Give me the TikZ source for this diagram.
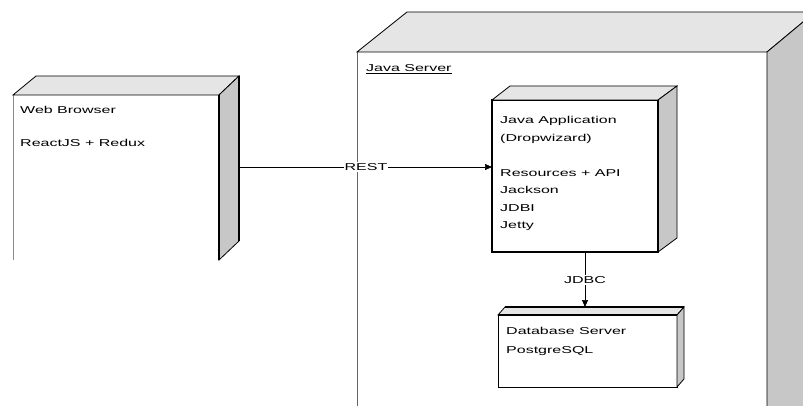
\documentclass[tikz,border=0pt]{standalone}
\usepackage{fontspec}
\setmainfont{Liberation Sans}
\newfontfamily\widefont[FakeStretch=1.6]{Liberation Sans}
\usetikzlibrary{calc,arrows.meta}
\tikzset{
 front/.style={draw=black, line width=0.8pt, fill=white, anchor=north west, inner sep=0pt, outer sep=0pt},
 topface/.style={draw=black, line width=0.8pt, fill=black!10},
 sideface/.style={draw=black, line width=0.8pt, fill=black!22},
 lbl/.style={font=\widefont\fontsize{10}{17.5}\selectfont, align=left, anchor=base west, inner sep=0pt},
 conn/.style={draw=black, line width=0.7pt, -{Triangle[length=7pt,width=6pt]}},
 connlbl/.style={fill=white, font=\widefont\fontsize{10}{12}\selectfont, inner sep=1pt}
}
\begin{document}
\begin{tikzpicture}[x=1pt,y=-1pt]
\clip (0,0) rectangle (803,406);
\fill[white] (0,0) rectangle (803,406);
% Web browser node
\node[front, draw=none, minimum width=206, minimum height=165] (browser) at (13,95) {};
\draw[black!45, line width=0.6pt] (browser.south west) -- (browser.north west);
\draw[topface] (browser.north west) -- ($(browser.north west)+(23,-19)$) -- ($(browser.north east)+(20,-19)$) -- (browser.north east) -- cycle;
\draw[sideface] (browser.north east) -- ($(browser.north east)+(20,-19)$) -- ($(browser.south east)+(20,-19)$) -- (browser.south east) -- cycle;
\draw[line width=2pt] ($(browser.north east)+(20,-19)$) -- ($(browser.south east)+(20,-19)$);
\draw[line width=1.6pt] (browser.north east) -- (browser.south east);
\node[lbl] (browsertext) at (20,147) {Web Browser\\[16pt]ReactJS + Redux};
% Java server node
\node[front, draw=none, minimum width=410, minimum height=420] (server) at (357,52) {};
\draw[black!60, line width=0.7pt] (server.south west) -- (server.north west);
\draw[topface] (server.north west) -- ($(server.north west)+(50,-40)$) -- ($(server.north east)+(48,-40)$) -- (server.north east) -- cycle;
\draw[sideface] (server.north east) -- ($(server.north east)+(48,-40)$) -- ($(server.south east)+(48,-40)$) -- (server.south east) -- cycle;
\node[lbl] (servertext) at (366,72) {\underline{Java Server}};
% Application node
\node[front, line width=1.6pt, minimum width=166, minimum height=152] (app) at (492,100) {};
\draw[topface] (app.north west) -- ($(app.north west)+(18,-14)$) -- ($(app.north east)+(19,-14)$) -- (app.north east) -- cycle;
\draw[sideface] (app.north east) -- ($(app.north east)+(19,-14)$) -- ($(app.south east)+(19,-14)$) -- (app.south east) -- cycle;
\draw[line width=1.6pt] (app.north west) -- (app.south west) -- (app.south east) -- (app.north east);
\node[lbl] (apptext) at (500,229) {Java Application\\(Dropwizard)\\[17.5pt]Resources + API\\Jackson\\JDBI\\Jetty};
% Database node
\node[front, minimum width=179, minimum height=72] (db) at (498,315) {};
\draw[topface] (db.north west) -- ($(db.north west)+(7,-8)$) -- ($(db.north east)+(7,-8)$) -- (db.north east) -- cycle;
\draw[sideface] (db.north east) -- ($(db.north east)+(7,-8)$) -- ($(db.south east)+(7,-8)$) -- (db.south east) -- cycle;
\draw[line width=2pt] ($(db.north west)+(7,-8)$) -- ($(db.north east)+(7,-8)$);
\draw[line width=1.4pt] (db.north west) -- (db.north east);
\node[lbl] (dbtext) at (506,353) {Database Server\\[1pt]PostgreSQL};
% connectors
\coordinate (restStart) at (240,167);
\draw[conn] (restStart) -- (restStart -| app.west) node[connlbl, pos=0.5] (restlbl) {REST};
\coordinate (jdbcStart) at ($(app.south)+(10,0)$);
\coordinate (jdbcEnd) at (585,307);
\draw[conn] (jdbcStart) -- (jdbcEnd);
\node[connlbl] (jdbclbl) at (585,280) {JDBC};
\end{tikzpicture}
\end{document}
